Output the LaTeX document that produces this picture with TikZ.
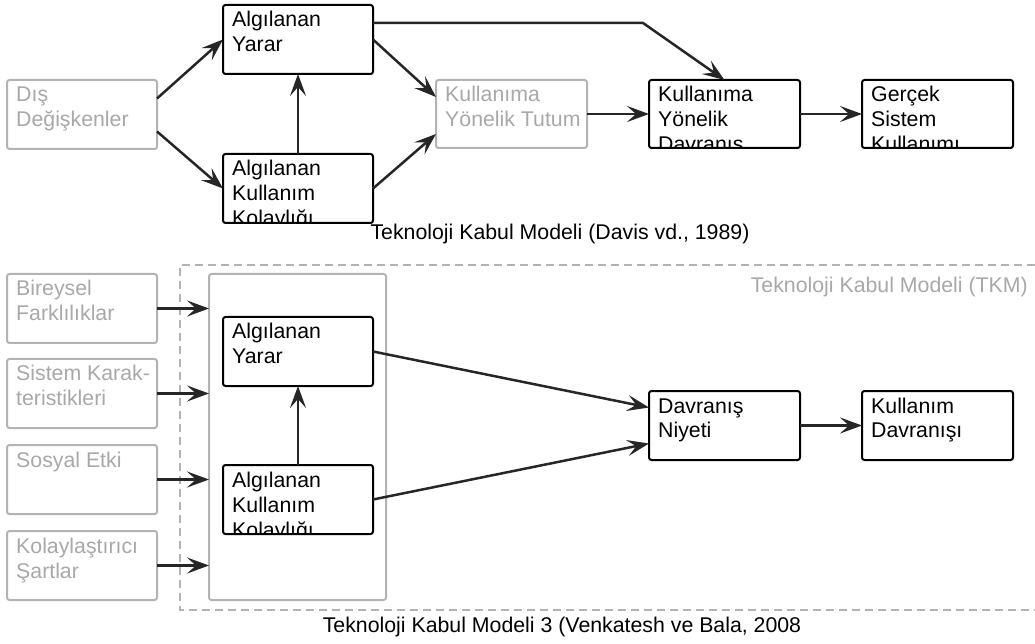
\documentclass[tikz,border=0pt]{standalone}
\usepackage{fontspec}
\setmainfont{Liberation Sans}
\usetikzlibrary{arrows.meta,calc}
\definecolor{gline}{HTML}{B3B3B3}
\definecolor{gtext}{HTML}{A8A8A8}
\definecolor{aline}{HTML}{262626}
\newcommand\mybox[8]{%
  \node[#2, anchor=north west, minimum width=#5pt, minimum height=#6pt] (#1) at (#3,643-#4) {};
  \begin{scope}
    \clip (#1.south west) rectangle (#1.north east);
    \node[anchor=base west, inner sep=0pt, text=#7, font=\fontsize{21.3}{25}\selectfont]
      at ($(#1.north west)+(9,-22)$) {\parbox[t]{300pt}{#8}};
  \end{scope}}
\begin{document}
\begin{tikzpicture}[x=1pt,y=1pt,
  bbox/.style={draw=black, line width=2pt, rounded corners=2.5pt, inner sep=0pt, outer sep=0pt},
  gbox/.style={draw=gline, line width=2pt, rounded corners=2.5pt, inner sep=0pt, outer sep=0pt},
  conn/.style={draw=aline, line width=2.5pt, -{Stealth[length=22pt,width=16pt,inset=9pt]}},
  captext/.style={font=\fontsize{21.3}{25}\selectfont, inner sep=0pt},
]
\useasboundingbox (0,0) rectangle (1035,643);

% ---------------- top diagram ----------------
\mybox{dis}{gbox}{7}{80}{150}{69}{gtext}{Dış\\Değişkenler}
\mybox{ay}{bbox}{223}{5}{150}{69}{black}{Algılanan\\Yarar}
\mybox{akk}{bbox}{223}{154}{150}{69}{black}{Algılanan\\Kullanım\\Kolaylığı}
\mybox{kyt}{gbox}{436}{80}{151}{68}{gtext}{Kullanıma\\Yönelik Tutum}
\mybox{kyd}{bbox}{649}{80}{151}{68}{black}{Kullanıma\\Yönelik\\Davranış}
\mybox{gsk}{bbox}{862}{80}{151}{68}{black}{Gerçek\\Sistem\\Kullanımı}

\coordinate (bend) at (643,643-23);

\draw[conn] ([yshift=16]dis.east) -- (ay.west);
\draw[conn] ([yshift=-17]dis.east) -- (akk.west);
\draw[conn] (akk.north) -- (ay.south);
\draw[conn] (ay.east) -- ([yshift=17]kyt.west);
\draw[conn] (akk.east) -- ([yshift=-20]kyt.west);
\draw[conn] (ay.east |- bend) -- (bend) -- (kyd.north);
\draw[conn] (kyt.east) -- (kyd.west);
\draw[conn] (kyd.east) -- (gsk.west);

\node[captext, anchor=base] (cap1) at (560,643-240) {Teknoloji Kabul Modeli (Davis vd., 1989)};

% ---------------- bottom diagram ----------------
\draw[gline, line width=1.6pt, dash pattern=on 8pt off 5pt]
  (1035,643-265) -- (180,643-265) -- (180,643-610) -- (1035,643-610);
\node[anchor=base east, inner sep=0pt, text=gtext, font=\fontsize{21.3}{25}\selectfont]
  (tkm) at (1028,643-293) {Teknoloji Kabul Modeli (TKM)};

\node[gbox, anchor=north west, minimum width=177pt, minimum height=326pt] (big) at (209,643-274) {};

\mybox{bf}{gbox}{7}{274}{150}{69}{gtext}{Bireysel\\Farklılıklar}
\mybox{sk}{gbox}{7}{359}{150}{69}{gtext}{Sistem Karak-\\teristikleri}
\mybox{se}{gbox}{7}{445}{150}{69}{gtext}{Sosyal Etki}
\mybox{ks}{gbox}{7}{531}{150}{69}{gtext}{Kolaylaştırıcı\\Şartlar}

\mybox{ay2}{bbox}{223}{317}{150}{69}{black}{Algılanan\\Yarar}
\mybox{akk2}{bbox}{223}{465}{150}{69}{black}{Algılanan\\Kullanım\\Kolaylığı}
\mybox{dn}{bbox}{649}{391}{151}{69}{black}{Davranış\\Niyeti}
\mybox{kd}{bbox}{862}{391}{151}{69}{black}{Kullanım\\Davranışı}

\draw[conn] (bf.east) -- (big.west |- bf.east);
\draw[conn] (sk.east) -- (big.west |- sk.east);
\draw[conn] (se.east) -- (big.west |- se.east);
\draw[conn] (ks.east) -- (big.west |- ks.east);
\draw[conn] (akk2.north) -- (ay2.south);
\draw[conn] (ay2.east) -- ([yshift=18]dn.west);
\draw[conn] (akk2.east) -- ([yshift=-18]dn.west);
\draw[conn] (dn.east) -- (kd.west);

\node[captext, anchor=base] (cap2) at (562,643-632) {Teknoloji Kabul Modeli 3 (Venkatesh ve Bala, 2008};
\end{tikzpicture}
\end{document}
